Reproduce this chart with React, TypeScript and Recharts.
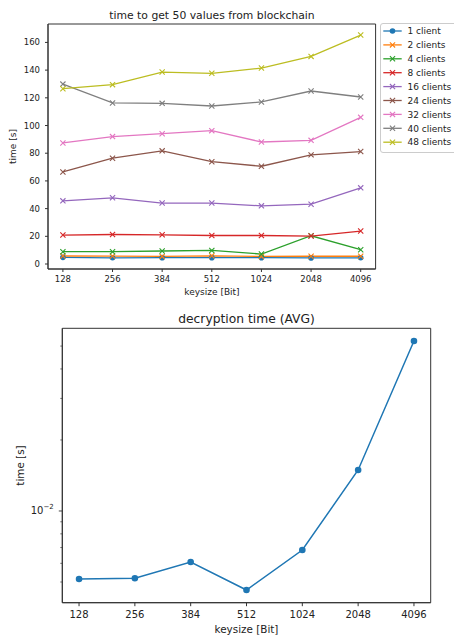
import React from "react";
import { LineChart, Line, XAxis, YAxis, ReferenceArea } from "recharts";

// keysizes used on both x axes
const keysizes = [128, 256, 384, 512, 1024, 2048, 4096];

// time to get 50 values from blockchain [s]
const client1 = [4.8, 4.5, 4.6, 4.6, 4.6, 4.4, 4.5];
const clients2 = [5.8, 5.7, 5.5, 5.9, 5.5, 5.6, 5.6];
const clients4 = [8.9, 8.9, 9.4, 9.8, 7.2, 20.4, 10.3];
const clients8 = [20.9, 21.3, 21.1, 20.6, 20.6, 20.2, 23.8];
const clients16 = [45.6, 47.8, 44.0, 44.0, 42.0, 43.2, 55.0];
const clients24 = [66.5, 76.4, 81.7, 73.9, 70.6, 78.8, 81.2];
const clients32 = [87.4, 92.0, 94.1, 96.3, 88.1, 89.3, 105.9];
const clients40 = [129.9, 116.3, 116.0, 114.1, 117.0, 124.9, 120.6];
const clients48 = [126.6, 129.5, 138.6, 137.7, 141.5, 149.9, 165.3];

const topTicks = [0, 20, 40, 60, 80, 100, 120, 140, 160];

// decryption time (AVG) [s]
const decryptionTime = [0.005148, 0.005184, 0.006078, 0.004625, 0.006834, 0.014924, 0.05257];
const logTicks = [0.005, 0.006, 0.007, 0.008, 0.009, 0.01, 0.02, 0.03, 0.04, 0.05];

const series = [
  { key: "c1", name: "1 client", values: client1, color: "#1f77b4", marker: "o" },
  { key: "c2", name: "2 clients", values: clients2, color: "#ff7f0e", marker: "x" },
  { key: "c4", name: "4 clients", values: clients4, color: "#2ca02c", marker: "x" },
  { key: "c8", name: "8 clients", values: clients8, color: "#d62728", marker: "x" },
  { key: "c16", name: "16 clients", values: clients16, color: "#9467bd", marker: "x" },
  { key: "c24", name: "24 clients", values: clients24, color: "#8c564b", marker: "x" },
  { key: "c32", name: "32 clients", values: clients32, color: "#e377c2", marker: "x" },
  { key: "c40", name: "40 clients", values: clients40, color: "#7f7f7f", marker: "x" },
  { key: "c48", name: "48 clients", values: clients48, color: "#bcbd22", marker: "x" },
];

const topData = keysizes.map((k, i) => {
  const row: Record<string, number> = { idx: i, keysize: k };
  series.forEach((s) => (row[s.key] = s.values[i]));
  return row;
});

const decData = keysizes.map((k, i) => ({ idx: i, keysize: k, time: decryptionTime[i] }));

const FONT = "'DejaVu Sans', sans-serif";
const TEXT = "#222";
const AXIS = "#333";

function XMark(props: any) {
  const { cx, cy, stroke } = props;
  if (cx == null || cy == null) return null;
  const s = 2.6;
  return (
    <path
      d={`M${cx - s},${cy - s}L${cx + s},${cy + s}M${cx - s},${cy + s}L${cx + s},${cy - s}`}
      stroke={stroke}
      strokeWidth={1.1}
      fill="none"
    />
  );
}

function LogTick(props: any) {
  const { x, y, payload } = props;
  const major = payload.value === 0.01;
  return (
    <g>
      <line x1={x} x2={x - (major ? 3.5 : 2)} y1={y} y2={y} stroke={AXIS} strokeWidth={major ? 0.9 : 0.7} />
      {major && (
        <text x={x - 8.5} y={y + 3.5} textAnchor="end" fontSize={10} fill={TEXT} fontFamily={FONT}>
          10
          <tspan fontSize={7} dy={-5}>
            −2
          </tspan>
        </text>
      )}
    </g>
  );
}

export default function App() {
  return (
    <div
      style={{
        position: "absolute",
        left: 0,
        top: 0,
        width: 454,
        height: 637,
        overflow: "hidden",
        background: "#fff",
        fontFamily: FONT,
      }}
    >
      {/* top chart */}
      <div style={{ position: "absolute", left: 0, top: 0 }}>
        <LineChart width={454} height={300} data={topData} margin={{ top: 24, right: 78.4, bottom: 0, left: 0 }}>
          <XAxis
            dataKey="idx"
            type="number"
            domain={[-0.3, 6.3]}
            allowDataOverflow
            ticks={[0, 1, 2, 3, 4, 5, 6]}
            tickFormatter={(i: number) => String(keysizes[i])}
            height={31}
            tickSize={3}
            tickMargin={4}
            axisLine={{ stroke: AXIS }}
            tickLine={{ stroke: AXIS }}
            tick={{ fontSize: 8.5, fill: TEXT, fontFamily: FONT }}
          />
          <YAxis
            type="number"
            domain={[-3.6, 173.3]}
            allowDataOverflow
            ticks={topTicks}
            width={48}
            tickSize={3}
            tickMargin={5}
            axisLine={{ stroke: AXIS }}
            tickLine={{ stroke: AXIS }}
            tick={{ fontSize: 8.5, fill: TEXT, fontFamily: FONT }}
          />
          <ReferenceArea x1={-0.3} x2={6.3} y1={-3.6} y2={173.3} fill="none" stroke={AXIS} ifOverflow="visible" />
          {series.map((s) => (
            <Line
              key={s.key}
              dataKey={s.key}
              type="linear"
              stroke={s.color}
              strokeWidth={1.3}
              isAnimationActive={false}
              activeDot={false}
              dot={s.marker === "o" ? { r: 2.8, fill: s.color, stroke: s.color, strokeWidth: 0 } : <XMark />}
            />
          ))}
        </LineChart>
      </div>

      {/* legend of the top chart */}
      <div
        style={{
          position: "absolute",
          left: 380,
          top: 23,
          width: 90,
          height: 128,
          border: "1px solid #ccc",
          borderRadius: 3,
          background: "rgba(255,255,255,0.8)",
        }}
      >
        <svg width={90} height={128} style={{ position: "absolute", left: -1, top: -1 }}>
          {series.map((s, i) => {
            const y = 8 + i * 13.9;
            return (
              <g key={s.key}>
                <line x1={3.3} x2={21.7} y1={y} y2={y} stroke={s.color} strokeWidth={1.3} />
                {s.marker === "o" ? (
                  <circle cx={12.5} cy={y} r={2.8} fill={s.color} />
                ) : (
                  <XMark cx={12.5} cy={y} stroke={s.color} />
                )}
                <text x={27.5} y={y + 3.2} fontSize={9} fill={TEXT} fontFamily={FONT}>
                  {s.name}
                </text>
              </g>
            );
          })}
        </svg>
      </div>

      {/* bottom chart */}
      <div style={{ position: "absolute", left: 0, top: 300 }}>
        <LineChart width={454} height={337} data={decData} margin={{ top: 28.3, right: 23.3, bottom: 0, left: 0 }}>
          <XAxis
            dataKey="idx"
            type="number"
            domain={[-0.3, 6.3]}
            allowDataOverflow
            ticks={[0, 1, 2, 3, 4, 5, 6]}
            tickFormatter={(i: number) => String(keysizes[i])}
            height={34.3}
            tickSize={3.5}
            tickMargin={5}
            axisLine={{ stroke: AXIS }}
            tickLine={{ stroke: AXIS }}
            tick={{ fontSize: 10, fill: TEXT, fontFamily: FONT }}
          />
          <YAxis
            type="number"
            scale="log"
            domain={[0.004086, 0.05947]}
            allowDataOverflow
            ticks={logTicks}
            width={62.3}
            tickSize={0}
            tickMargin={0}
            tickLine={false}
            axisLine={{ stroke: AXIS }}
            tick={<LogTick />}
            interval={0}
          />
          <ReferenceArea x1={-0.3} x2={6.3} y1={0.004086} y2={0.05947} fill="none" stroke={AXIS} ifOverflow="visible" />
          <Line
            dataKey="time"
            type="linear"
            stroke="#1f77b4"
            strokeWidth={1.5}
            isAnimationActive={false}
            activeDot={false}
            dot={{ r: 3.3, fill: "#1f77b4", stroke: "#1f77b4", strokeWidth: 0 }}
          />
        </LineChart>
      </div>

      {/* titles and axis labels */}
      <svg width={454} height={637} style={{ position: "absolute", left: 0, top: 0, pointerEvents: "none" }}>
        <g fontFamily={FONT} fill={TEXT} textAnchor="middle">
          <text x={212} y={18.5} fontSize={10.8}>
            time to get 50 values from blockchain
          </text>
          <text x={212} y={294.5} fontSize={9}>
            keysize [Bit]
          </text>
          <text x={0} y={0} fontSize={9} transform="translate(16.2,146.5) rotate(-90)">
            time [s]
          </text>
          <text x={246.5} y={322.5} fontSize={12.3}>
            decryption time (AVG)
          </text>
          <text x={246.5} y={632.5} fontSize={10.4}>
            keysize [Bit]
          </text>
          <text x={0} y={0} fontSize={10.4} transform="translate(23.8,465.5) rotate(-90)">
            time [s]
          </text>
        </g>
      </svg>
    </div>
  );
}
